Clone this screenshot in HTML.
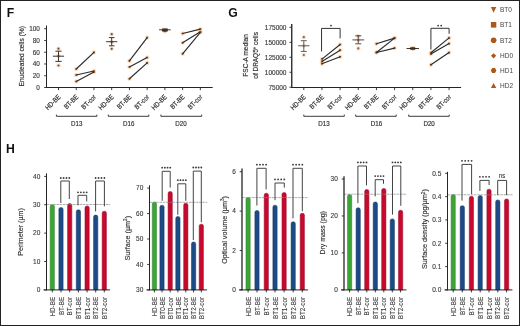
<!DOCTYPE html>
<html><head><meta charset="utf-8"><style>
html,body{margin:0;padding:0;background:#fff;}
body{width:520px;height:326px;overflow:hidden;}
svg{display:block;font-family:"Liberation Sans", sans-serif;}
</style></head><body>
<svg width="520" height="326" viewBox="0 0 520 326">
<rect x="0" y="0" width="520" height="326" fill="#fff"/>
<g opacity="0.999">
<text x="6.70" y="16.50" font-size="12.2" text-anchor="start" fill="#111" font-weight="bold" >F</text>
<text x="228.30" y="16.60" font-size="12.2" text-anchor="start" fill="#111" font-weight="bold" >G</text>
<text x="6.10" y="152.60" font-size="12.2" text-anchor="start" fill="#111" font-weight="bold" >H</text>
<line x1="46.50" y1="25.50" x2="46.50" y2="88.00" stroke="#262626" stroke-width="1" />
<line x1="46.00" y1="87.50" x2="212.70" y2="87.50" stroke="#262626" stroke-width="1" />
<line x1="44.20" y1="87.50" x2="46.50" y2="87.50" stroke="#262626" stroke-width="0.9" />
<text x="39.80" y="89.80" font-size="6.4" text-anchor="end" fill="#3a3a3a" font-weight="normal"  stroke="#3a3a3a" stroke-width="0.15">0</text>
<line x1="44.20" y1="75.74" x2="46.50" y2="75.74" stroke="#262626" stroke-width="0.9" />
<text x="39.80" y="78.04" font-size="6.4" text-anchor="end" fill="#3a3a3a" font-weight="normal"  stroke="#3a3a3a" stroke-width="0.15">20</text>
<line x1="44.20" y1="63.98" x2="46.50" y2="63.98" stroke="#262626" stroke-width="0.9" />
<text x="39.80" y="66.28" font-size="6.4" text-anchor="end" fill="#3a3a3a" font-weight="normal"  stroke="#3a3a3a" stroke-width="0.15">40</text>
<line x1="44.20" y1="52.22" x2="46.50" y2="52.22" stroke="#262626" stroke-width="0.9" />
<text x="39.80" y="54.52" font-size="6.4" text-anchor="end" fill="#3a3a3a" font-weight="normal"  stroke="#3a3a3a" stroke-width="0.15">60</text>
<line x1="44.20" y1="40.46" x2="46.50" y2="40.46" stroke="#262626" stroke-width="0.9" />
<text x="39.80" y="42.76" font-size="6.4" text-anchor="end" fill="#3a3a3a" font-weight="normal"  stroke="#3a3a3a" stroke-width="0.15">80</text>
<line x1="44.20" y1="28.70" x2="46.50" y2="28.70" stroke="#262626" stroke-width="0.9" />
<text x="39.80" y="31.00" font-size="6.4" text-anchor="end" fill="#3a3a3a" font-weight="normal"  stroke="#3a3a3a" stroke-width="0.15">100</text>
<line x1="58.50" y1="87.50" x2="58.50" y2="90.10" stroke="#262626" stroke-width="0.9" />
<text transform="translate(61.00,97.40) rotate(-45) scale(0.86,1)" font-size="6.9" text-anchor="end" fill="#333" font-weight="normal"  stroke="#333" stroke-width="0.2">HD-BE</text>
<line x1="76.23" y1="87.50" x2="76.23" y2="90.10" stroke="#262626" stroke-width="0.9" />
<text transform="translate(78.73,97.40) rotate(-45) scale(0.86,1)" font-size="6.9" text-anchor="end" fill="#333" font-weight="normal"  stroke="#333" stroke-width="0.2">BT-BE</text>
<line x1="93.96" y1="87.50" x2="93.96" y2="90.10" stroke="#262626" stroke-width="0.9" />
<text transform="translate(96.46,97.40) rotate(-45) scale(0.86,1)" font-size="6.9" text-anchor="end" fill="#333" font-weight="normal"  stroke="#333" stroke-width="0.2">BT-cor</text>
<line x1="111.69" y1="87.50" x2="111.69" y2="90.10" stroke="#262626" stroke-width="0.9" />
<text transform="translate(114.19,97.40) rotate(-45) scale(0.86,1)" font-size="6.9" text-anchor="end" fill="#333" font-weight="normal"  stroke="#333" stroke-width="0.2">HD-BE</text>
<line x1="129.42" y1="87.50" x2="129.42" y2="90.10" stroke="#262626" stroke-width="0.9" />
<text transform="translate(131.92,97.40) rotate(-45) scale(0.86,1)" font-size="6.9" text-anchor="end" fill="#333" font-weight="normal"  stroke="#333" stroke-width="0.2">BT-BE</text>
<line x1="147.15" y1="87.50" x2="147.15" y2="90.10" stroke="#262626" stroke-width="0.9" />
<text transform="translate(149.65,97.40) rotate(-45) scale(0.86,1)" font-size="6.9" text-anchor="end" fill="#333" font-weight="normal"  stroke="#333" stroke-width="0.2">BT-cor</text>
<line x1="164.88" y1="87.50" x2="164.88" y2="90.10" stroke="#262626" stroke-width="0.9" />
<text transform="translate(167.38,97.40) rotate(-45) scale(0.86,1)" font-size="6.9" text-anchor="end" fill="#333" font-weight="normal"  stroke="#333" stroke-width="0.2">HD-BE</text>
<line x1="182.61" y1="87.50" x2="182.61" y2="90.10" stroke="#262626" stroke-width="0.9" />
<text transform="translate(185.11,97.40) rotate(-45) scale(0.86,1)" font-size="6.9" text-anchor="end" fill="#333" font-weight="normal"  stroke="#333" stroke-width="0.2">BT-BE</text>
<line x1="200.34" y1="87.50" x2="200.34" y2="90.10" stroke="#262626" stroke-width="0.9" />
<text transform="translate(202.84,97.40) rotate(-45) scale(0.86,1)" font-size="6.9" text-anchor="end" fill="#333" font-weight="normal"  stroke="#333" stroke-width="0.2">BT-cor</text>
<path d="M56.40,114.6 V116.3 H96.90 V114.6" fill="none" stroke="#262626" stroke-width="0.9"/>
<text transform="translate(76.80,126.00) scale(0.9,1)" font-size="6.9" text-anchor="middle" fill="#333" font-weight="normal"  stroke="#333" stroke-width="0.18">D13</text>
<path d="M108.30,114.6 V116.3 H148.80 V114.6" fill="none" stroke="#262626" stroke-width="0.9"/>
<text transform="translate(128.70,126.00) scale(0.9,1)" font-size="6.9" text-anchor="middle" fill="#333" font-weight="normal"  stroke="#333" stroke-width="0.18">D16</text>
<path d="M160.90,114.6 V116.3 H201.70 V114.6" fill="none" stroke="#262626" stroke-width="0.9"/>
<text transform="translate(181.00,126.00) scale(0.9,1)" font-size="6.9" text-anchor="middle" fill="#333" font-weight="normal"  stroke="#333" stroke-width="0.18">D20</text>
<text transform="translate(23.60,56.30) rotate(-90)" font-size="7.3" text-anchor="middle" fill="#333" font-weight="normal" textLength="60.5" lengthAdjust="spacingAndGlyphs"  stroke="#333" stroke-width="0.18">Enucleated cells (%)</text>
<circle cx="58.50" cy="48.70" r="2.3" fill="#f0b070" fill-opacity="0.35"/>
<circle cx="58.50" cy="48.70" r="1.1" fill="#6a5040"/>
<circle cx="58.50" cy="65.50" r="2.3" fill="#f0b070" fill-opacity="0.35"/>
<circle cx="58.50" cy="65.50" r="1.1" fill="#6a5040"/>
<circle cx="58.50" cy="56.00" r="2.3" fill="#f0b070" fill-opacity="0.35"/>
<circle cx="58.50" cy="56.00" r="1.1" fill="#6a5040"/>
<line x1="58.50" y1="51.20" x2="58.50" y2="61.40" stroke="#3f352e" stroke-width="1" />
<line x1="52.90" y1="56.20" x2="64.10" y2="56.20" stroke="#3f352e" stroke-width="1" />
<line x1="55.40" y1="51.20" x2="61.60" y2="51.20" stroke="#3f352e" stroke-width="1" />
<line x1="55.40" y1="61.40" x2="61.60" y2="61.40" stroke="#3f352e" stroke-width="1" />
<circle cx="76.23" cy="69.00" r="2.3" fill="#f0b070" fill-opacity="0.35"/>
<circle cx="76.23" cy="69.00" r="1.1" fill="#8a4c1c"/>
<circle cx="93.96" cy="52.40" r="2.3" fill="#f0b070" fill-opacity="0.35"/>
<circle cx="93.96" cy="52.40" r="1.1" fill="#8a4c1c"/>
<circle cx="76.23" cy="75.00" r="2.3" fill="#f0b070" fill-opacity="0.35"/>
<circle cx="76.23" cy="75.00" r="1.1" fill="#8a4c1c"/>
<circle cx="93.96" cy="71.00" r="2.3" fill="#f0b070" fill-opacity="0.35"/>
<circle cx="93.96" cy="71.00" r="1.1" fill="#8a4c1c"/>
<circle cx="76.23" cy="81.50" r="2.3" fill="#f0b070" fill-opacity="0.35"/>
<circle cx="76.23" cy="81.50" r="1.1" fill="#8a4c1c"/>
<circle cx="93.96" cy="72.00" r="2.3" fill="#f0b070" fill-opacity="0.35"/>
<circle cx="93.96" cy="72.00" r="1.1" fill="#8a4c1c"/>
<line x1="76.23" y1="69.00" x2="93.96" y2="52.40" stroke="#2a2a2a" stroke-width="1.15" />
<line x1="76.23" y1="75.00" x2="93.96" y2="71.00" stroke="#2a2a2a" stroke-width="1.15" />
<line x1="76.23" y1="81.50" x2="93.96" y2="72.00" stroke="#2a2a2a" stroke-width="1.15" />
<circle cx="111.69" cy="34.20" r="2.3" fill="#f0b070" fill-opacity="0.35"/>
<circle cx="111.69" cy="34.20" r="1.1" fill="#6a5040"/>
<circle cx="111.69" cy="48.80" r="2.3" fill="#f0b070" fill-opacity="0.35"/>
<circle cx="111.69" cy="48.80" r="1.1" fill="#6a5040"/>
<circle cx="111.69" cy="42.00" r="2.3" fill="#f0b070" fill-opacity="0.35"/>
<circle cx="111.69" cy="42.00" r="1.1" fill="#6a5040"/>
<line x1="111.69" y1="37.60" x2="111.69" y2="45.80" stroke="#3f352e" stroke-width="1" />
<line x1="106.09" y1="41.70" x2="117.29" y2="41.70" stroke="#3f352e" stroke-width="1" />
<line x1="108.89" y1="37.60" x2="114.49" y2="37.60" stroke="#3f352e" stroke-width="1" />
<line x1="108.89" y1="45.80" x2="114.49" y2="45.80" stroke="#3f352e" stroke-width="1" />
<circle cx="129.42" cy="60.90" r="2.3" fill="#f0b070" fill-opacity="0.35"/>
<circle cx="129.42" cy="60.90" r="1.1" fill="#8a4c1c"/>
<circle cx="147.15" cy="37.60" r="2.3" fill="#f0b070" fill-opacity="0.35"/>
<circle cx="147.15" cy="37.60" r="1.1" fill="#8a4c1c"/>
<circle cx="129.42" cy="67.00" r="2.3" fill="#f0b070" fill-opacity="0.35"/>
<circle cx="129.42" cy="67.00" r="1.1" fill="#8a4c1c"/>
<circle cx="147.15" cy="57.50" r="2.3" fill="#f0b070" fill-opacity="0.35"/>
<circle cx="147.15" cy="57.50" r="1.1" fill="#8a4c1c"/>
<circle cx="129.42" cy="78.80" r="2.3" fill="#f0b070" fill-opacity="0.35"/>
<circle cx="129.42" cy="78.80" r="1.1" fill="#8a4c1c"/>
<circle cx="147.15" cy="62.90" r="2.3" fill="#f0b070" fill-opacity="0.35"/>
<circle cx="147.15" cy="62.90" r="1.1" fill="#8a4c1c"/>
<line x1="129.42" y1="60.90" x2="147.15" y2="37.60" stroke="#2a2a2a" stroke-width="1.15" />
<line x1="129.42" y1="67.00" x2="147.15" y2="57.50" stroke="#2a2a2a" stroke-width="1.15" />
<line x1="129.42" y1="78.80" x2="147.15" y2="62.90" stroke="#2a2a2a" stroke-width="1.15" />
<circle cx="164.88" cy="29.60" r="2.3" fill="#f0b070" fill-opacity="0.35"/>
<circle cx="164.88" cy="29.60" r="1.1" fill="#6a5040"/>
<circle cx="164.88" cy="30.40" r="2.3" fill="#f0b070" fill-opacity="0.35"/>
<circle cx="164.88" cy="30.40" r="1.1" fill="#6a5040"/>
<circle cx="164.88" cy="31.20" r="2.3" fill="#f0b070" fill-opacity="0.35"/>
<circle cx="164.88" cy="31.20" r="1.1" fill="#6a5040"/>
<line x1="164.88" y1="29.00" x2="164.88" y2="30.80" stroke="#3f352e" stroke-width="1" />
<line x1="159.08" y1="29.80" x2="170.68" y2="29.80" stroke="#3f352e" stroke-width="1" />
<line x1="161.88" y1="29.00" x2="167.88" y2="29.00" stroke="#3f352e" stroke-width="1" />
<line x1="161.88" y1="30.80" x2="167.88" y2="30.80" stroke="#3f352e" stroke-width="1" />
<circle cx="163.28" cy="30.20" r="1.2" fill="#3a3028"/>
<circle cx="166.48" cy="30.20" r="1.2" fill="#3a3028"/>
<circle cx="182.61" cy="33.50" r="2.3" fill="#f0b070" fill-opacity="0.35"/>
<circle cx="182.61" cy="33.50" r="1.1" fill="#8a4c1c"/>
<circle cx="200.34" cy="29.10" r="2.3" fill="#f0b070" fill-opacity="0.35"/>
<circle cx="200.34" cy="29.10" r="1.1" fill="#8a4c1c"/>
<circle cx="182.61" cy="42.80" r="2.3" fill="#f0b070" fill-opacity="0.35"/>
<circle cx="182.61" cy="42.80" r="1.1" fill="#8a4c1c"/>
<circle cx="200.34" cy="31.80" r="2.3" fill="#f0b070" fill-opacity="0.35"/>
<circle cx="200.34" cy="31.80" r="1.1" fill="#8a4c1c"/>
<circle cx="182.61" cy="53.80" r="2.3" fill="#f0b070" fill-opacity="0.35"/>
<circle cx="182.61" cy="53.80" r="1.1" fill="#8a4c1c"/>
<circle cx="200.34" cy="32.30" r="2.3" fill="#f0b070" fill-opacity="0.35"/>
<circle cx="200.34" cy="32.30" r="1.1" fill="#8a4c1c"/>
<line x1="182.61" y1="33.50" x2="200.34" y2="29.10" stroke="#2a2a2a" stroke-width="1.15" />
<line x1="182.61" y1="42.80" x2="200.34" y2="31.80" stroke="#2a2a2a" stroke-width="1.15" />
<line x1="182.61" y1="53.80" x2="200.34" y2="32.30" stroke="#2a2a2a" stroke-width="1.15" />
<line x1="291.75" y1="24.10" x2="291.75" y2="88.00" stroke="#262626" stroke-width="1.35" />
<line x1="291.25" y1="87.50" x2="461.10" y2="87.50" stroke="#262626" stroke-width="1" />
<line x1="289.45" y1="87.23" x2="291.75" y2="87.23" stroke="#262626" stroke-width="0.9" />
<text x="286.50" y="90.13" font-size="6.5" text-anchor="end" fill="#3a3a3a" font-weight="normal"  stroke="#3a3a3a" stroke-width="0.15">75000</text>
<line x1="289.45" y1="72.26" x2="291.75" y2="72.26" stroke="#262626" stroke-width="0.9" />
<text x="286.50" y="75.16" font-size="6.5" text-anchor="end" fill="#3a3a3a" font-weight="normal"  stroke="#3a3a3a" stroke-width="0.15">100000</text>
<line x1="289.45" y1="57.29" x2="291.75" y2="57.29" stroke="#262626" stroke-width="0.9" />
<text x="286.50" y="60.19" font-size="6.5" text-anchor="end" fill="#3a3a3a" font-weight="normal"  stroke="#3a3a3a" stroke-width="0.15">125000</text>
<line x1="289.45" y1="42.32" x2="291.75" y2="42.32" stroke="#262626" stroke-width="0.9" />
<text x="286.50" y="45.22" font-size="6.5" text-anchor="end" fill="#3a3a3a" font-weight="normal"  stroke="#3a3a3a" stroke-width="0.15">150000</text>
<line x1="289.45" y1="27.35" x2="291.75" y2="27.35" stroke="#262626" stroke-width="0.9" />
<text x="286.50" y="30.25" font-size="6.5" text-anchor="end" fill="#3a3a3a" font-weight="normal"  stroke="#3a3a3a" stroke-width="0.15">175000</text>
<line x1="303.80" y1="87.50" x2="303.80" y2="90.10" stroke="#262626" stroke-width="0.9" />
<text transform="translate(306.30,97.40) rotate(-45) scale(0.86,1)" font-size="6.9" text-anchor="end" fill="#333" font-weight="normal"  stroke="#333" stroke-width="0.2">HD-BE</text>
<line x1="321.96" y1="87.50" x2="321.96" y2="90.10" stroke="#262626" stroke-width="0.9" />
<text transform="translate(324.46,97.40) rotate(-45) scale(0.86,1)" font-size="6.9" text-anchor="end" fill="#333" font-weight="normal"  stroke="#333" stroke-width="0.2">BT-BE</text>
<line x1="340.12" y1="87.50" x2="340.12" y2="90.10" stroke="#262626" stroke-width="0.9" />
<text transform="translate(342.62,97.40) rotate(-45) scale(0.86,1)" font-size="6.9" text-anchor="end" fill="#333" font-weight="normal"  stroke="#333" stroke-width="0.2">BT-cor</text>
<line x1="358.28" y1="87.50" x2="358.28" y2="90.10" stroke="#262626" stroke-width="0.9" />
<text transform="translate(360.78,97.40) rotate(-45) scale(0.86,1)" font-size="6.9" text-anchor="end" fill="#333" font-weight="normal"  stroke="#333" stroke-width="0.2">HD-BE</text>
<line x1="376.44" y1="87.50" x2="376.44" y2="90.10" stroke="#262626" stroke-width="0.9" />
<text transform="translate(378.94,97.40) rotate(-45) scale(0.86,1)" font-size="6.9" text-anchor="end" fill="#333" font-weight="normal"  stroke="#333" stroke-width="0.2">BT-BE</text>
<line x1="394.60" y1="87.50" x2="394.60" y2="90.10" stroke="#262626" stroke-width="0.9" />
<text transform="translate(397.10,97.40) rotate(-45) scale(0.86,1)" font-size="6.9" text-anchor="end" fill="#333" font-weight="normal"  stroke="#333" stroke-width="0.2">BT-cor</text>
<line x1="412.76" y1="87.50" x2="412.76" y2="90.10" stroke="#262626" stroke-width="0.9" />
<text transform="translate(415.26,97.40) rotate(-45) scale(0.86,1)" font-size="6.9" text-anchor="end" fill="#333" font-weight="normal"  stroke="#333" stroke-width="0.2">HD-BE</text>
<line x1="430.92" y1="87.50" x2="430.92" y2="90.10" stroke="#262626" stroke-width="0.9" />
<text transform="translate(433.42,97.40) rotate(-45) scale(0.86,1)" font-size="6.9" text-anchor="end" fill="#333" font-weight="normal"  stroke="#333" stroke-width="0.2">BT-BE</text>
<line x1="449.08" y1="87.50" x2="449.08" y2="90.10" stroke="#262626" stroke-width="0.9" />
<text transform="translate(451.58,97.40) rotate(-45) scale(0.86,1)" font-size="6.9" text-anchor="end" fill="#333" font-weight="normal"  stroke="#333" stroke-width="0.2">BT-cor</text>
<path d="M303.80,114.6 V116.3 H344.30 V114.6" fill="none" stroke="#262626" stroke-width="0.9"/>
<text transform="translate(323.90,126.00) scale(0.9,1)" font-size="6.9" text-anchor="middle" fill="#333" font-weight="normal"  stroke="#333" stroke-width="0.18">D13</text>
<path d="M355.70,114.6 V116.3 H396.20 V114.6" fill="none" stroke="#262626" stroke-width="0.9"/>
<text transform="translate(376.50,126.00) scale(0.9,1)" font-size="6.9" text-anchor="middle" fill="#333" font-weight="normal"  stroke="#333" stroke-width="0.18">D16</text>
<path d="M408.70,114.6 V116.3 H449.20 V114.6" fill="none" stroke="#262626" stroke-width="0.9"/>
<text transform="translate(429.10,126.00) scale(0.9,1)" font-size="6.9" text-anchor="middle" fill="#333" font-weight="normal"  stroke="#333" stroke-width="0.18">D20</text>
<text transform="translate(247.50,55.40) rotate(-90)" font-size="7.1" text-anchor="middle" fill="#333" font-weight="normal" textLength="42.6" lengthAdjust="spacingAndGlyphs"  stroke="#333" stroke-width="0.18">FSC-A median</text>
<text transform="translate(258.30,55.40) rotate(-90)" font-size="7.1" text-anchor="middle" fill="#333" font-weight="normal" textLength="46.6" lengthAdjust="spacingAndGlyphs"  stroke="#333" stroke-width="0.18">of DRAQ5<tspan font-size="4.6" dy="-2.6">+</tspan><tspan dy="2.6"> cells</tspan></text>
<circle cx="303.80" cy="37.20" r="2.3" fill="#f0b070" fill-opacity="0.35"/>
<circle cx="303.80" cy="37.20" r="1.1" fill="#7a6656"/>
<circle cx="303.80" cy="55.00" r="2.3" fill="#f0b070" fill-opacity="0.35"/>
<circle cx="303.80" cy="55.00" r="1.1" fill="#7a6656"/>
<circle cx="303.80" cy="45.80" r="2.3" fill="#f0b070" fill-opacity="0.35"/>
<circle cx="303.80" cy="45.80" r="1.1" fill="#7a6656"/>
<line x1="303.80" y1="40.70" x2="303.80" y2="51.40" stroke="#6a5c54" stroke-width="1" />
<line x1="298.10" y1="45.80" x2="309.50" y2="45.80" stroke="#6a5c54" stroke-width="1" />
<line x1="300.80" y1="40.70" x2="306.80" y2="40.70" stroke="#6a5c54" stroke-width="1" />
<line x1="300.80" y1="51.40" x2="306.80" y2="51.40" stroke="#6a5c54" stroke-width="1" />
<circle cx="321.96" cy="59.10" r="2.3" fill="#f0b070" fill-opacity="0.35"/>
<circle cx="321.96" cy="59.10" r="1.1" fill="#8a4c1c"/>
<circle cx="340.12" cy="44.50" r="2.3" fill="#f0b070" fill-opacity="0.35"/>
<circle cx="340.12" cy="44.50" r="1.1" fill="#8a4c1c"/>
<circle cx="321.96" cy="61.40" r="2.3" fill="#f0b070" fill-opacity="0.35"/>
<circle cx="321.96" cy="61.40" r="1.1" fill="#8a4c1c"/>
<circle cx="340.12" cy="50.20" r="2.3" fill="#f0b070" fill-opacity="0.35"/>
<circle cx="340.12" cy="50.20" r="1.1" fill="#8a4c1c"/>
<circle cx="321.96" cy="63.70" r="2.3" fill="#f0b070" fill-opacity="0.35"/>
<circle cx="321.96" cy="63.70" r="1.1" fill="#8a4c1c"/>
<circle cx="340.12" cy="56.80" r="2.3" fill="#f0b070" fill-opacity="0.35"/>
<circle cx="340.12" cy="56.80" r="1.1" fill="#8a4c1c"/>
<line x1="321.96" y1="59.10" x2="340.12" y2="44.50" stroke="#2a2a2a" stroke-width="1.15" />
<line x1="321.96" y1="61.40" x2="340.12" y2="50.20" stroke="#2a2a2a" stroke-width="1.15" />
<line x1="321.96" y1="63.70" x2="340.12" y2="56.80" stroke="#2a2a2a" stroke-width="1.15" />
<circle cx="358.28" cy="36.00" r="2.3" fill="#f0b070" fill-opacity="0.35"/>
<circle cx="358.28" cy="36.00" r="1.1" fill="#7a6656"/>
<circle cx="358.28" cy="48.40" r="2.3" fill="#f0b070" fill-opacity="0.35"/>
<circle cx="358.28" cy="48.40" r="1.1" fill="#7a6656"/>
<circle cx="358.28" cy="40.00" r="2.3" fill="#f0b070" fill-opacity="0.35"/>
<circle cx="358.28" cy="40.00" r="1.1" fill="#7a6656"/>
<line x1="358.28" y1="35.80" x2="358.28" y2="43.80" stroke="#5a4c44" stroke-width="1" />
<line x1="352.38" y1="39.90" x2="364.18" y2="39.90" stroke="#5a4c44" stroke-width="1" />
<line x1="355.28" y1="35.80" x2="361.28" y2="35.80" stroke="#5a4c44" stroke-width="1" />
<line x1="355.28" y1="43.80" x2="361.28" y2="43.80" stroke="#5a4c44" stroke-width="1" />
<circle cx="376.44" cy="43.80" r="2.3" fill="#f0b070" fill-opacity="0.35"/>
<circle cx="376.44" cy="43.80" r="1.1" fill="#8a4c1c"/>
<circle cx="394.60" cy="38.10" r="2.3" fill="#f0b070" fill-opacity="0.35"/>
<circle cx="394.60" cy="38.10" r="1.1" fill="#8a4c1c"/>
<circle cx="376.44" cy="52.50" r="2.3" fill="#f0b070" fill-opacity="0.35"/>
<circle cx="376.44" cy="52.50" r="1.1" fill="#8a4c1c"/>
<circle cx="394.60" cy="38.10" r="2.3" fill="#f0b070" fill-opacity="0.35"/>
<circle cx="394.60" cy="38.10" r="1.1" fill="#8a4c1c"/>
<circle cx="376.44" cy="52.50" r="2.3" fill="#f0b070" fill-opacity="0.35"/>
<circle cx="376.44" cy="52.50" r="1.1" fill="#8a4c1c"/>
<circle cx="394.60" cy="48.10" r="2.3" fill="#f0b070" fill-opacity="0.35"/>
<circle cx="394.60" cy="48.10" r="1.1" fill="#8a4c1c"/>
<line x1="376.44" y1="43.80" x2="394.60" y2="38.10" stroke="#2a2a2a" stroke-width="1.15" />
<line x1="376.44" y1="52.50" x2="394.60" y2="38.10" stroke="#2a2a2a" stroke-width="1.15" />
<line x1="376.44" y1="52.50" x2="394.60" y2="48.10" stroke="#2a2a2a" stroke-width="1.15" />
<circle cx="412.76" cy="48.20" r="2.3" fill="#f0b070" fill-opacity="0.35"/>
<circle cx="412.76" cy="48.20" r="1.1" fill="#6a5040"/>
<circle cx="412.76" cy="48.80" r="2.3" fill="#f0b070" fill-opacity="0.35"/>
<circle cx="412.76" cy="48.80" r="1.1" fill="#6a5040"/>
<circle cx="412.76" cy="48.50" r="2.3" fill="#f0b070" fill-opacity="0.35"/>
<circle cx="412.76" cy="48.50" r="1.1" fill="#6a5040"/>
<line x1="412.76" y1="47.90" x2="412.76" y2="49.10" stroke="#3f352e" stroke-width="1" />
<line x1="406.56" y1="48.50" x2="418.96" y2="48.50" stroke="#3f352e" stroke-width="1" />
<line x1="410.56" y1="47.90" x2="414.96" y2="47.90" stroke="#3f352e" stroke-width="1" />
<line x1="410.56" y1="49.10" x2="414.96" y2="49.10" stroke="#3f352e" stroke-width="1" />
<circle cx="410.76" cy="48.50" r="1.0" fill="#2a2420"/>
<circle cx="414.76" cy="48.50" r="1.0" fill="#2a2420"/>
<circle cx="430.92" cy="52.80" r="2.3" fill="#f0b070" fill-opacity="0.35"/>
<circle cx="430.92" cy="52.80" r="1.1" fill="#8a4c1c"/>
<circle cx="449.08" cy="37.90" r="2.3" fill="#f0b070" fill-opacity="0.35"/>
<circle cx="449.08" cy="37.90" r="1.1" fill="#8a4c1c"/>
<circle cx="430.92" cy="54.00" r="2.3" fill="#f0b070" fill-opacity="0.35"/>
<circle cx="430.92" cy="54.00" r="1.1" fill="#8a4c1c"/>
<circle cx="449.08" cy="43.60" r="2.3" fill="#f0b070" fill-opacity="0.35"/>
<circle cx="449.08" cy="43.60" r="1.1" fill="#8a4c1c"/>
<circle cx="430.92" cy="64.80" r="2.3" fill="#f0b070" fill-opacity="0.35"/>
<circle cx="430.92" cy="64.80" r="1.1" fill="#8a4c1c"/>
<circle cx="449.08" cy="52.60" r="2.3" fill="#f0b070" fill-opacity="0.35"/>
<circle cx="449.08" cy="52.60" r="1.1" fill="#8a4c1c"/>
<line x1="430.92" y1="52.80" x2="449.08" y2="37.90" stroke="#2a2a2a" stroke-width="1.15" />
<line x1="430.92" y1="54.00" x2="449.08" y2="43.60" stroke="#2a2a2a" stroke-width="1.15" />
<line x1="430.92" y1="64.80" x2="449.08" y2="52.60" stroke="#2a2a2a" stroke-width="1.15" />
<path d="M321.56,51.4 V28.4 H340.12 V38.4" fill="none" stroke="#333" stroke-width="1"/>
<circle cx="331.00" cy="25.60" r="0.92" fill="#3a3a3a"/>
<path d="M430.92,49.5 V28.3 H449.08 V33.8" fill="none" stroke="#333" stroke-width="1"/>
<circle cx="438.10" cy="25.60" r="0.92" fill="#3a3a3a"/>
<circle cx="441.20" cy="25.60" r="0.92" fill="#3a3a3a"/>
<path d="M490.90000000000003,7.000000000000001 L496.3,7.000000000000001 L493.6,12.700000000000001 Z" fill="#ad5818"/>
<rect x="490.90000000000003" y="22.0" width="5.4" height="5.6" fill="#ad5818"/>
<circle cx="493.6" cy="40.3" r="2.8" fill="#ad5818"/>
<path d="M493.6,53.199999999999996 L496.20000000000005,55.8 L493.6,58.4 L491.0,55.8 Z" fill="#ad5818"/>
<path d="M490.8,70.6 L492.20000000000005,68.1 L495.0,68.1 L496.40000000000003,70.6 L495.0,73.1 L492.20000000000005,73.1 Z" fill="#ad5818"/>
<path d="M490.90000000000003,87.89999999999999 L496.3,87.89999999999999 L493.6,82.89999999999999 Z" fill="#ad5818"/>
<text x="500.00" y="12.10" font-size="6.5" text-anchor="start" fill="#444" font-weight="normal" >BT0</text>
<text x="500.00" y="27.10" font-size="6.5" text-anchor="start" fill="#444" font-weight="normal" >BT1</text>
<text x="500.00" y="42.60" font-size="6.5" text-anchor="start" fill="#444" font-weight="normal" >BT2</text>
<text x="500.00" y="58.10" font-size="6.5" text-anchor="start" fill="#444" font-weight="normal" >HD0</text>
<text x="500.00" y="72.90" font-size="6.5" text-anchor="start" fill="#444" font-weight="normal" >HD1</text>
<text x="500.00" y="87.90" font-size="6.5" text-anchor="start" fill="#444" font-weight="normal" >HD2</text>
<path d="M50.17,289.9 V206.60 Q50.17,204.70 52.07,204.70 H52.52 Q54.42,204.70 54.42,206.60 V289.9 Z" fill="#3ca537" stroke="#2f7e2b" stroke-width="0.5"/>
<path d="M58.88,289.9 V209.40 Q58.88,207.50 60.77,207.50 H61.23 Q63.12,207.50 63.12,209.40 V289.9 Z" fill="#1d4b87" stroke="#12335f" stroke-width="0.5"/>
<path d="M67.58,289.9 V205.40 Q67.58,203.50 69.48,203.50 H69.92 Q71.83,203.50 71.83,205.40 V289.9 Z" fill="#c8082c" stroke="#930c2a" stroke-width="0.5"/>
<path d="M76.28,289.9 V211.70 Q76.28,209.80 78.18,209.80 H78.62 Q80.53,209.80 80.53,211.70 V289.9 Z" fill="#1d4b87" stroke="#12335f" stroke-width="0.5"/>
<path d="M84.97,289.9 V207.80 Q84.97,205.90 86.88,205.90 H87.32 Q89.22,205.90 89.22,207.80 V289.9 Z" fill="#c8082c" stroke="#930c2a" stroke-width="0.5"/>
<path d="M93.58,289.9 V217.00 Q93.58,215.10 95.48,215.10 H95.92 Q97.83,215.10 97.83,217.00 V289.9 Z" fill="#1d4b87" stroke="#12335f" stroke-width="0.5"/>
<path d="M102.17,289.9 V213.10 Q102.17,211.20 104.08,211.20 H104.52 Q106.42,211.20 106.42,213.10 V289.9 Z" fill="#c8082c" stroke="#930c2a" stroke-width="0.5"/>
<line x1="46.5" y1="204.50" x2="110.30" y2="204.50" stroke="#8a8a8a" stroke-width="0.7" stroke-dasharray="2.6,0.7"/>
<line x1="46.50" y1="173.30" x2="46.50" y2="290.40" stroke="#262626" stroke-width="1" />
<line x1="43.50" y1="289.90" x2="110.10" y2="289.90" stroke="#262626" stroke-width="1" />
<line x1="44.20" y1="289.90" x2="46.50" y2="289.90" stroke="#262626" stroke-width="0.9" />
<text x="40.30" y="292.20" font-size="6.5" text-anchor="end" fill="#3a3a3a" font-weight="normal"  stroke="#3a3a3a" stroke-width="0.12">0</text>
<line x1="44.20" y1="261.52" x2="46.50" y2="261.52" stroke="#262626" stroke-width="0.9" />
<text x="40.30" y="263.82" font-size="6.5" text-anchor="end" fill="#3a3a3a" font-weight="normal"  stroke="#3a3a3a" stroke-width="0.12">10</text>
<line x1="44.20" y1="233.15" x2="46.50" y2="233.15" stroke="#262626" stroke-width="0.9" />
<text x="40.30" y="235.45" font-size="6.5" text-anchor="end" fill="#3a3a3a" font-weight="normal"  stroke="#3a3a3a" stroke-width="0.12">20</text>
<line x1="44.20" y1="204.77" x2="46.50" y2="204.77" stroke="#262626" stroke-width="0.9" />
<text x="40.30" y="207.07" font-size="6.5" text-anchor="end" fill="#3a3a3a" font-weight="normal"  stroke="#3a3a3a" stroke-width="0.12">30</text>
<line x1="44.20" y1="176.40" x2="46.50" y2="176.40" stroke="#262626" stroke-width="0.9" />
<text x="40.30" y="178.70" font-size="6.5" text-anchor="end" fill="#3a3a3a" font-weight="normal"  stroke="#3a3a3a" stroke-width="0.12">40</text>
<line x1="52.30" y1="289.90" x2="52.30" y2="292.40" stroke="#262626" stroke-width="0.9" />
<text transform="translate(54.95,296.90) rotate(-90) scale(0.9,1)" font-size="7.0" text-anchor="end" fill="#383838" font-weight="normal"  stroke="#383838" stroke-width="0.1">HD-BE</text>
<line x1="61.00" y1="289.90" x2="61.00" y2="292.40" stroke="#262626" stroke-width="0.9" />
<text transform="translate(63.65,296.90) rotate(-90) scale(0.9,1)" font-size="7.0" text-anchor="end" fill="#383838" font-weight="normal"  stroke="#383838" stroke-width="0.1">BT-BE</text>
<line x1="69.70" y1="289.90" x2="69.70" y2="292.40" stroke="#262626" stroke-width="0.9" />
<text transform="translate(72.35,296.90) rotate(-90) scale(0.9,1)" font-size="7.0" text-anchor="end" fill="#383838" font-weight="normal"  stroke="#383838" stroke-width="0.1">BT-cor</text>
<line x1="78.40" y1="289.90" x2="78.40" y2="292.40" stroke="#262626" stroke-width="0.9" />
<text transform="translate(81.05,296.90) rotate(-90) scale(0.9,1)" font-size="7.0" text-anchor="end" fill="#383838" font-weight="normal"  stroke="#383838" stroke-width="0.1">BT1-BE</text>
<line x1="87.10" y1="289.90" x2="87.10" y2="292.40" stroke="#262626" stroke-width="0.9" />
<text transform="translate(89.75,296.90) rotate(-90) scale(0.9,1)" font-size="7.0" text-anchor="end" fill="#383838" font-weight="normal"  stroke="#383838" stroke-width="0.1">BT1-cor</text>
<line x1="95.70" y1="289.90" x2="95.70" y2="292.40" stroke="#262626" stroke-width="0.9" />
<text transform="translate(98.35,296.90) rotate(-90) scale(0.9,1)" font-size="7.0" text-anchor="end" fill="#383838" font-weight="normal"  stroke="#383838" stroke-width="0.1">BT2-BE</text>
<line x1="104.30" y1="289.90" x2="104.30" y2="292.40" stroke="#262626" stroke-width="0.9" />
<text transform="translate(106.95,296.90) rotate(-90) scale(0.9,1)" font-size="7.0" text-anchor="end" fill="#383838" font-weight="normal"  stroke="#383838" stroke-width="0.1">BT2-cor</text>
<path d="M60.80,203.00 V181.00 H69.30 V199.10" fill="none" stroke="#444" stroke-width="1"/>
<circle cx="60.80" cy="178.00" r="0.92" fill="#3a3a3a"/>
<circle cx="63.63" cy="178.00" r="0.92" fill="#3a3a3a"/>
<circle cx="66.47" cy="178.00" r="0.92" fill="#3a3a3a"/>
<circle cx="69.30" cy="178.00" r="0.92" fill="#3a3a3a"/>
<path d="M78.00,205.30 V195.30 H86.70 V201.40" fill="none" stroke="#444" stroke-width="1"/>
<circle cx="78.00" cy="192.30" r="0.92" fill="#3a3a3a"/>
<circle cx="80.90" cy="192.30" r="0.92" fill="#3a3a3a"/>
<circle cx="83.80" cy="192.30" r="0.92" fill="#3a3a3a"/>
<circle cx="86.70" cy="192.30" r="0.92" fill="#3a3a3a"/>
<path d="M95.60,211.40 V181.00 H104.40 V206.30" fill="none" stroke="#444" stroke-width="1"/>
<circle cx="95.60" cy="178.00" r="0.92" fill="#3a3a3a"/>
<circle cx="98.53" cy="178.00" r="0.92" fill="#3a3a3a"/>
<circle cx="101.47" cy="178.00" r="0.92" fill="#3a3a3a"/>
<circle cx="104.40" cy="178.00" r="0.92" fill="#3a3a3a"/>
<text transform="translate(23.00,232.00) rotate(-90)" font-size="7.2" text-anchor="middle" fill="#333" font-weight="normal" textLength="47.6" lengthAdjust="spacingAndGlyphs"  stroke="#333" stroke-width="0.15">Perimeter (µm)</text>
<path d="M152.28,289.9 V204.00 Q152.28,202.10 154.18,202.10 H154.62 Q156.53,202.10 156.53,204.00 V289.9 Z" fill="#3ca537" stroke="#2f7e2b" stroke-width="0.5"/>
<path d="M159.88,289.9 V207.20 Q159.88,205.30 161.78,205.30 H162.22 Q164.12,205.30 164.12,207.20 V289.9 Z" fill="#1d4b87" stroke="#12335f" stroke-width="0.5"/>
<path d="M168.07,289.9 V193.40 Q168.07,191.50 169.97,191.50 H170.42 Q172.32,191.50 172.32,193.40 V289.9 Z" fill="#c8082c" stroke="#930c2a" stroke-width="0.5"/>
<path d="M175.78,289.9 V218.40 Q175.78,216.50 177.68,216.50 H178.12 Q180.03,216.50 180.03,218.40 V289.9 Z" fill="#1d4b87" stroke="#12335f" stroke-width="0.5"/>
<path d="M183.68,289.9 V205.10 Q183.68,203.20 185.58,203.20 H186.03 Q187.93,203.20 187.93,205.10 V289.9 Z" fill="#c8082c" stroke="#930c2a" stroke-width="0.5"/>
<path d="M191.47,289.9 V243.90 Q191.47,242.00 193.38,242.00 H193.82 Q195.72,242.00 195.72,243.90 V289.9 Z" fill="#1d4b87" stroke="#12335f" stroke-width="0.5"/>
<path d="M199.18,289.9 V226.10 Q199.18,224.20 201.08,224.20 H201.53 Q203.43,224.20 203.43,226.10 V289.9 Z" fill="#c8082c" stroke="#930c2a" stroke-width="0.5"/>
<line x1="149.5" y1="202.30" x2="207.30" y2="202.30" stroke="#8a8a8a" stroke-width="0.7" stroke-dasharray="2.6,0.7"/>
<line x1="149.50" y1="185.30" x2="149.50" y2="290.40" stroke="#262626" stroke-width="1" />
<line x1="146.50" y1="289.90" x2="207.10" y2="289.90" stroke="#262626" stroke-width="1" />
<line x1="147.20" y1="289.90" x2="149.50" y2="289.90" stroke="#262626" stroke-width="0.9" />
<text x="143.30" y="292.20" font-size="6.5" text-anchor="end" fill="#3a3a3a" font-weight="normal"  stroke="#3a3a3a" stroke-width="0.12">30</text>
<line x1="147.20" y1="264.45" x2="149.50" y2="264.45" stroke="#262626" stroke-width="0.9" />
<text x="143.30" y="266.75" font-size="6.5" text-anchor="end" fill="#3a3a3a" font-weight="normal"  stroke="#3a3a3a" stroke-width="0.12">40</text>
<line x1="147.20" y1="239.00" x2="149.50" y2="239.00" stroke="#262626" stroke-width="0.9" />
<text x="143.30" y="241.30" font-size="6.5" text-anchor="end" fill="#3a3a3a" font-weight="normal"  stroke="#3a3a3a" stroke-width="0.12">50</text>
<line x1="147.20" y1="213.55" x2="149.50" y2="213.55" stroke="#262626" stroke-width="0.9" />
<text x="143.30" y="215.85" font-size="6.5" text-anchor="end" fill="#3a3a3a" font-weight="normal"  stroke="#3a3a3a" stroke-width="0.12">60</text>
<line x1="147.20" y1="188.10" x2="149.50" y2="188.10" stroke="#262626" stroke-width="0.9" />
<text x="143.30" y="190.40" font-size="6.5" text-anchor="end" fill="#3a3a3a" font-weight="normal"  stroke="#3a3a3a" stroke-width="0.12">70</text>
<line x1="154.40" y1="289.90" x2="154.40" y2="292.40" stroke="#262626" stroke-width="0.9" />
<text transform="translate(157.05,296.90) rotate(-90) scale(0.9,1)" font-size="7.0" text-anchor="end" fill="#383838" font-weight="normal"  stroke="#383838" stroke-width="0.1">HD-BE</text>
<line x1="162.00" y1="289.90" x2="162.00" y2="292.40" stroke="#262626" stroke-width="0.9" />
<text transform="translate(164.65,296.90) rotate(-90) scale(0.9,1)" font-size="7.0" text-anchor="end" fill="#383838" font-weight="normal"  stroke="#383838" stroke-width="0.1">BT0-BE</text>
<line x1="170.20" y1="289.90" x2="170.20" y2="292.40" stroke="#262626" stroke-width="0.9" />
<text transform="translate(172.85,296.90) rotate(-90) scale(0.9,1)" font-size="7.0" text-anchor="end" fill="#383838" font-weight="normal"  stroke="#383838" stroke-width="0.1">BT0-cor</text>
<line x1="177.90" y1="289.90" x2="177.90" y2="292.40" stroke="#262626" stroke-width="0.9" />
<text transform="translate(180.55,296.90) rotate(-90) scale(0.9,1)" font-size="7.0" text-anchor="end" fill="#383838" font-weight="normal"  stroke="#383838" stroke-width="0.1">BT1-BE</text>
<line x1="185.80" y1="289.90" x2="185.80" y2="292.40" stroke="#262626" stroke-width="0.9" />
<text transform="translate(188.45,296.90) rotate(-90) scale(0.9,1)" font-size="7.0" text-anchor="end" fill="#383838" font-weight="normal"  stroke="#383838" stroke-width="0.1">BT1-cor</text>
<line x1="193.60" y1="289.90" x2="193.60" y2="292.40" stroke="#262626" stroke-width="0.9" />
<text transform="translate(196.25,296.90) rotate(-90) scale(0.9,1)" font-size="7.0" text-anchor="end" fill="#383838" font-weight="normal"  stroke="#383838" stroke-width="0.1">BT2-BE</text>
<line x1="201.30" y1="289.90" x2="201.30" y2="292.40" stroke="#262626" stroke-width="0.9" />
<text transform="translate(203.95,296.90) rotate(-90) scale(0.9,1)" font-size="7.0" text-anchor="end" fill="#383838" font-weight="normal"  stroke="#383838" stroke-width="0.1">BT2-cor</text>
<path d="M162.20,200.80 V171.30 H170.20 V187.60" fill="none" stroke="#444" stroke-width="1"/>
<circle cx="162.20" cy="167.70" r="0.92" fill="#3a3a3a"/>
<circle cx="164.87" cy="167.70" r="0.92" fill="#3a3a3a"/>
<circle cx="167.53" cy="167.70" r="0.92" fill="#3a3a3a"/>
<circle cx="170.20" cy="167.70" r="0.92" fill="#3a3a3a"/>
<path d="M177.80,214.80 V183.80 H185.80 V200.80" fill="none" stroke="#444" stroke-width="1"/>
<circle cx="177.80" cy="180.20" r="0.92" fill="#3a3a3a"/>
<circle cx="180.47" cy="180.20" r="0.92" fill="#3a3a3a"/>
<circle cx="183.13" cy="180.20" r="0.92" fill="#3a3a3a"/>
<circle cx="185.80" cy="180.20" r="0.92" fill="#3a3a3a"/>
<path d="M193.30,240.00 V171.10 H201.30 V222.30" fill="none" stroke="#444" stroke-width="1"/>
<circle cx="193.30" cy="167.50" r="0.92" fill="#3a3a3a"/>
<circle cx="195.97" cy="167.50" r="0.92" fill="#3a3a3a"/>
<circle cx="198.63" cy="167.50" r="0.92" fill="#3a3a3a"/>
<circle cx="201.30" cy="167.50" r="0.92" fill="#3a3a3a"/>
<text transform="translate(129.60,238.20) rotate(-90)" font-size="7.2" text-anchor="middle" fill="#333" font-weight="normal" textLength="44.6" lengthAdjust="spacingAndGlyphs"  stroke="#333" stroke-width="0.15">Surface (µm<tspan font-size="4.6" dy="-2.6">2</tspan><tspan dy="2.6">)</tspan></text>
<path d="M245.97,289.9 V199.50 Q245.97,197.60 247.88,197.60 H248.32 Q250.22,197.60 250.22,199.50 V289.9 Z" fill="#3ca537" stroke="#2f7e2b" stroke-width="0.5"/>
<path d="M254.88,289.9 V212.40 Q254.88,210.50 256.77,210.50 H257.23 Q259.12,210.50 259.12,212.40 V289.9 Z" fill="#1d4b87" stroke="#12335f" stroke-width="0.5"/>
<path d="M264.18,289.9 V195.10 Q264.18,193.20 266.07,193.20 H266.53 Q268.43,193.20 268.43,195.10 V289.9 Z" fill="#c8082c" stroke="#930c2a" stroke-width="0.5"/>
<path d="M272.88,289.9 V207.10 Q272.88,205.20 274.77,205.20 H275.23 Q277.12,205.20 277.12,207.10 V289.9 Z" fill="#1d4b87" stroke="#12335f" stroke-width="0.5"/>
<path d="M281.98,289.9 V194.40 Q281.98,192.50 283.88,192.50 H284.33 Q286.23,192.50 286.23,194.40 V289.9 Z" fill="#c8082c" stroke="#930c2a" stroke-width="0.5"/>
<path d="M291.07,289.9 V223.70 Q291.07,221.80 292.97,221.80 H293.43 Q295.32,221.80 295.32,223.70 V289.9 Z" fill="#1d4b87" stroke="#12335f" stroke-width="0.5"/>
<path d="M300.18,289.9 V215.20 Q300.18,213.30 302.07,213.30 H302.53 Q304.43,213.30 304.43,215.20 V289.9 Z" fill="#c8082c" stroke="#930c2a" stroke-width="0.5"/>
<line x1="242.0" y1="197.60" x2="308.30" y2="197.60" stroke="#8a8a8a" stroke-width="0.7" stroke-dasharray="2.6,0.7"/>
<line x1="242.00" y1="168.60" x2="242.00" y2="290.40" stroke="#262626" stroke-width="1.3" />
<line x1="239.00" y1="289.90" x2="308.10" y2="289.90" stroke="#262626" stroke-width="1" />
<line x1="239.70" y1="289.90" x2="242.00" y2="289.90" stroke="#262626" stroke-width="0.9" />
<text x="235.80" y="292.20" font-size="6.5" text-anchor="end" fill="#3a3a3a" font-weight="normal"  stroke="#3a3a3a" stroke-width="0.12">0</text>
<line x1="239.70" y1="250.50" x2="242.00" y2="250.50" stroke="#262626" stroke-width="0.9" />
<text x="235.80" y="252.80" font-size="6.5" text-anchor="end" fill="#3a3a3a" font-weight="normal"  stroke="#3a3a3a" stroke-width="0.12">2</text>
<line x1="239.70" y1="211.10" x2="242.00" y2="211.10" stroke="#262626" stroke-width="0.9" />
<text x="235.80" y="213.40" font-size="6.5" text-anchor="end" fill="#3a3a3a" font-weight="normal"  stroke="#3a3a3a" stroke-width="0.12">4</text>
<line x1="239.70" y1="171.70" x2="242.00" y2="171.70" stroke="#262626" stroke-width="0.9" />
<text x="235.80" y="174.00" font-size="6.5" text-anchor="end" fill="#3a3a3a" font-weight="normal"  stroke="#3a3a3a" stroke-width="0.12">6</text>
<line x1="248.10" y1="289.90" x2="248.10" y2="292.40" stroke="#262626" stroke-width="0.9" />
<text transform="translate(250.75,296.90) rotate(-90) scale(0.9,1)" font-size="7.0" text-anchor="end" fill="#383838" font-weight="normal"  stroke="#383838" stroke-width="0.1">HD-BE</text>
<line x1="257.00" y1="289.90" x2="257.00" y2="292.40" stroke="#262626" stroke-width="0.9" />
<text transform="translate(259.65,296.90) rotate(-90) scale(0.9,1)" font-size="7.0" text-anchor="end" fill="#383838" font-weight="normal"  stroke="#383838" stroke-width="0.1">BT-BE</text>
<line x1="266.30" y1="289.90" x2="266.30" y2="292.40" stroke="#262626" stroke-width="0.9" />
<text transform="translate(268.95,296.90) rotate(-90) scale(0.9,1)" font-size="7.0" text-anchor="end" fill="#383838" font-weight="normal"  stroke="#383838" stroke-width="0.1">BT-cor</text>
<line x1="275.00" y1="289.90" x2="275.00" y2="292.40" stroke="#262626" stroke-width="0.9" />
<text transform="translate(277.65,296.90) rotate(-90) scale(0.9,1)" font-size="7.0" text-anchor="end" fill="#383838" font-weight="normal"  stroke="#383838" stroke-width="0.1">BT1-BE</text>
<line x1="284.10" y1="289.90" x2="284.10" y2="292.40" stroke="#262626" stroke-width="0.9" />
<text transform="translate(286.75,296.90) rotate(-90) scale(0.9,1)" font-size="7.0" text-anchor="end" fill="#383838" font-weight="normal"  stroke="#383838" stroke-width="0.1">BT1-cor</text>
<line x1="293.20" y1="289.90" x2="293.20" y2="292.40" stroke="#262626" stroke-width="0.9" />
<text transform="translate(295.85,296.90) rotate(-90) scale(0.9,1)" font-size="7.0" text-anchor="end" fill="#383838" font-weight="normal"  stroke="#383838" stroke-width="0.1">BT2-BE</text>
<line x1="302.30" y1="289.90" x2="302.30" y2="292.40" stroke="#262626" stroke-width="0.9" />
<text transform="translate(304.95,296.90) rotate(-90) scale(0.9,1)" font-size="7.0" text-anchor="end" fill="#383838" font-weight="normal"  stroke="#383838" stroke-width="0.1">BT2-cor</text>
<path d="M256.90,205.50 V168.30 H266.10 V189.40" fill="none" stroke="#444" stroke-width="1"/>
<circle cx="256.90" cy="164.70" r="0.92" fill="#3a3a3a"/>
<circle cx="259.97" cy="164.70" r="0.92" fill="#3a3a3a"/>
<circle cx="263.03" cy="164.70" r="0.92" fill="#3a3a3a"/>
<circle cx="266.10" cy="164.70" r="0.92" fill="#3a3a3a"/>
<path d="M275.00,200.20 V183.00 H284.30 V187.60" fill="none" stroke="#444" stroke-width="1"/>
<circle cx="275.00" cy="179.40" r="0.92" fill="#3a3a3a"/>
<circle cx="278.10" cy="179.40" r="0.92" fill="#3a3a3a"/>
<circle cx="281.20" cy="179.40" r="0.92" fill="#3a3a3a"/>
<circle cx="284.30" cy="179.40" r="0.92" fill="#3a3a3a"/>
<path d="M293.00,218.40 V168.30 H302.30 V211.30" fill="none" stroke="#444" stroke-width="1"/>
<circle cx="293.00" cy="164.70" r="0.92" fill="#3a3a3a"/>
<circle cx="296.10" cy="164.70" r="0.92" fill="#3a3a3a"/>
<circle cx="299.20" cy="164.70" r="0.92" fill="#3a3a3a"/>
<circle cx="302.30" cy="164.70" r="0.92" fill="#3a3a3a"/>
<text transform="translate(227.00,229.90) rotate(-90)" font-size="7.2" text-anchor="middle" fill="#333" font-weight="normal" textLength="67.8" lengthAdjust="spacingAndGlyphs"  stroke="#333" stroke-width="0.15">Optical volume (µm<tspan font-size="4.6" dy="-2.6">3</tspan><tspan dy="2.6">)</tspan></text>
<path d="M347.48,289.9 V196.50 Q347.48,194.60 349.38,194.60 H349.83 Q351.73,194.60 351.73,196.50 V289.9 Z" fill="#3ca537" stroke="#2f7e2b" stroke-width="0.5"/>
<path d="M356.07,289.9 V209.70 Q356.07,207.80 357.97,207.80 H358.43 Q360.32,207.80 360.32,209.70 V289.9 Z" fill="#1d4b87" stroke="#12335f" stroke-width="0.5"/>
<path d="M364.68,289.9 V191.40 Q364.68,189.50 366.57,189.50 H367.03 Q368.93,189.50 368.93,191.40 V289.9 Z" fill="#c8082c" stroke="#930c2a" stroke-width="0.5"/>
<path d="M373.18,289.9 V203.90 Q373.18,202.00 375.07,202.00 H375.53 Q377.43,202.00 377.43,203.90 V289.9 Z" fill="#1d4b87" stroke="#12335f" stroke-width="0.5"/>
<path d="M381.68,289.9 V190.40 Q381.68,188.50 383.57,188.50 H384.03 Q385.93,188.50 385.93,190.40 V289.9 Z" fill="#c8082c" stroke="#930c2a" stroke-width="0.5"/>
<path d="M390.18,289.9 V220.80 Q390.18,218.90 392.07,218.90 H392.53 Q394.43,218.90 394.43,220.80 V289.9 Z" fill="#1d4b87" stroke="#12335f" stroke-width="0.5"/>
<path d="M398.48,289.9 V212.10 Q398.48,210.20 400.38,210.20 H400.83 Q402.73,210.20 402.73,212.10 V289.9 Z" fill="#c8082c" stroke="#930c2a" stroke-width="0.5"/>
<line x1="344.0" y1="194.20" x2="406.60" y2="194.20" stroke="#8a8a8a" stroke-width="0.7" stroke-dasharray="2.6,0.7"/>
<line x1="344.00" y1="176.30" x2="344.00" y2="290.40" stroke="#262626" stroke-width="1.3" />
<line x1="341.00" y1="289.90" x2="406.40" y2="289.90" stroke="#262626" stroke-width="1" />
<line x1="341.70" y1="289.90" x2="344.00" y2="289.90" stroke="#262626" stroke-width="0.9" />
<text x="337.80" y="292.20" font-size="6.5" text-anchor="end" fill="#3a3a3a" font-weight="normal"  stroke="#3a3a3a" stroke-width="0.12">0</text>
<line x1="341.70" y1="252.93" x2="344.00" y2="252.93" stroke="#262626" stroke-width="0.9" />
<text x="337.80" y="255.23" font-size="6.5" text-anchor="end" fill="#3a3a3a" font-weight="normal"  stroke="#3a3a3a" stroke-width="0.12">10</text>
<line x1="341.70" y1="215.96" x2="344.00" y2="215.96" stroke="#262626" stroke-width="0.9" />
<text x="337.80" y="218.26" font-size="6.5" text-anchor="end" fill="#3a3a3a" font-weight="normal"  stroke="#3a3a3a" stroke-width="0.12">20</text>
<line x1="341.70" y1="178.99" x2="344.00" y2="178.99" stroke="#262626" stroke-width="0.9" />
<text x="337.80" y="181.29" font-size="6.5" text-anchor="end" fill="#3a3a3a" font-weight="normal"  stroke="#3a3a3a" stroke-width="0.12">30</text>
<line x1="349.60" y1="289.90" x2="349.60" y2="292.40" stroke="#262626" stroke-width="0.9" />
<text transform="translate(352.25,296.90) rotate(-90) scale(0.9,1)" font-size="7.0" text-anchor="end" fill="#383838" font-weight="normal"  stroke="#383838" stroke-width="0.1">HD-BE</text>
<line x1="358.20" y1="289.90" x2="358.20" y2="292.40" stroke="#262626" stroke-width="0.9" />
<text transform="translate(360.85,296.90) rotate(-90) scale(0.9,1)" font-size="7.0" text-anchor="end" fill="#383838" font-weight="normal"  stroke="#383838" stroke-width="0.1">BT-BE</text>
<line x1="366.80" y1="289.90" x2="366.80" y2="292.40" stroke="#262626" stroke-width="0.9" />
<text transform="translate(369.45,296.90) rotate(-90) scale(0.9,1)" font-size="7.0" text-anchor="end" fill="#383838" font-weight="normal"  stroke="#383838" stroke-width="0.1">BT-cor</text>
<line x1="375.30" y1="289.90" x2="375.30" y2="292.40" stroke="#262626" stroke-width="0.9" />
<text transform="translate(377.95,296.90) rotate(-90) scale(0.9,1)" font-size="7.0" text-anchor="end" fill="#383838" font-weight="normal"  stroke="#383838" stroke-width="0.1">BT1-BE</text>
<line x1="383.80" y1="289.90" x2="383.80" y2="292.40" stroke="#262626" stroke-width="0.9" />
<text transform="translate(386.45,296.90) rotate(-90) scale(0.9,1)" font-size="7.0" text-anchor="end" fill="#383838" font-weight="normal"  stroke="#383838" stroke-width="0.1">BT1-cor</text>
<line x1="392.30" y1="289.90" x2="392.30" y2="292.40" stroke="#262626" stroke-width="0.9" />
<text transform="translate(394.95,296.90) rotate(-90) scale(0.9,1)" font-size="7.0" text-anchor="end" fill="#383838" font-weight="normal"  stroke="#383838" stroke-width="0.1">BT2-BE</text>
<line x1="400.60" y1="289.90" x2="400.60" y2="292.40" stroke="#262626" stroke-width="0.9" />
<text transform="translate(403.25,296.90) rotate(-90) scale(0.9,1)" font-size="7.0" text-anchor="end" fill="#383838" font-weight="normal"  stroke="#383838" stroke-width="0.1">BT2-cor</text>
<path d="M357.90,203.20 V166.00 H366.50 V185.40" fill="none" stroke="#444" stroke-width="1"/>
<circle cx="357.90" cy="162.40" r="0.92" fill="#3a3a3a"/>
<circle cx="360.77" cy="162.40" r="0.92" fill="#3a3a3a"/>
<circle cx="363.63" cy="162.40" r="0.92" fill="#3a3a3a"/>
<circle cx="366.50" cy="162.40" r="0.92" fill="#3a3a3a"/>
<path d="M375.20,196.40 V179.70 H383.50 V183.80" fill="none" stroke="#444" stroke-width="1"/>
<circle cx="375.20" cy="176.10" r="0.92" fill="#3a3a3a"/>
<circle cx="377.97" cy="176.10" r="0.92" fill="#3a3a3a"/>
<circle cx="380.73" cy="176.10" r="0.92" fill="#3a3a3a"/>
<circle cx="383.50" cy="176.10" r="0.92" fill="#3a3a3a"/>
<path d="M392.50,214.60 V166.00 H400.80 V205.80" fill="none" stroke="#444" stroke-width="1"/>
<circle cx="392.50" cy="162.40" r="0.92" fill="#3a3a3a"/>
<circle cx="395.27" cy="162.40" r="0.92" fill="#3a3a3a"/>
<circle cx="398.03" cy="162.40" r="0.92" fill="#3a3a3a"/>
<circle cx="400.80" cy="162.40" r="0.92" fill="#3a3a3a"/>
<text transform="translate(325.00,232.80) rotate(-90)" font-size="7.2" text-anchor="middle" fill="#333" font-weight="normal" textLength="43.4" lengthAdjust="spacingAndGlyphs"  stroke="#333" stroke-width="0.15">Dry mass (pg)</text>
<path d="M451.07,289.9 V196.50 Q451.07,194.60 452.97,194.60 H453.43 Q455.32,194.60 455.32,196.50 V289.9 Z" fill="#3ca537" stroke="#2f7e2b" stroke-width="0.5"/>
<path d="M460.18,289.9 V207.60 Q460.18,205.70 462.07,205.70 H462.53 Q464.43,205.70 464.43,207.60 V289.9 Z" fill="#1d4b87" stroke="#12335f" stroke-width="0.5"/>
<path d="M469.27,289.9 V198.20 Q469.27,196.30 471.17,196.30 H471.62 Q473.52,196.30 473.52,198.20 V289.9 Z" fill="#c8082c" stroke="#930c2a" stroke-width="0.5"/>
<path d="M478.07,289.9 V197.50 Q478.07,195.60 479.97,195.60 H480.43 Q482.32,195.60 482.32,197.50 V289.9 Z" fill="#1d4b87" stroke="#12335f" stroke-width="0.5"/>
<path d="M486.88,289.9 V191.10 Q486.88,189.20 488.77,189.20 H489.23 Q491.12,189.20 491.12,191.10 V289.9 Z" fill="#c8082c" stroke="#930c2a" stroke-width="0.5"/>
<path d="M495.68,289.9 V201.80 Q495.68,199.90 497.57,199.90 H498.03 Q499.93,199.90 499.93,201.80 V289.9 Z" fill="#1d4b87" stroke="#12335f" stroke-width="0.5"/>
<path d="M504.48,289.9 V200.80 Q504.48,198.90 506.38,198.90 H506.83 Q508.73,198.90 508.73,200.80 V289.9 Z" fill="#c8082c" stroke="#930c2a" stroke-width="0.5"/>
<line x1="447.5" y1="194.80" x2="512.60" y2="194.80" stroke="#8a8a8a" stroke-width="0.7" stroke-dasharray="2.6,0.7"/>
<line x1="447.50" y1="171.80" x2="447.50" y2="290.40" stroke="#262626" stroke-width="1" />
<line x1="444.50" y1="289.90" x2="512.40" y2="289.90" stroke="#262626" stroke-width="1" />
<line x1="445.20" y1="289.90" x2="447.50" y2="289.90" stroke="#262626" stroke-width="0.9" />
<text x="441.30" y="292.20" font-size="6.5" text-anchor="end" fill="#3a3a3a" font-weight="normal"  stroke="#3a3a3a" stroke-width="0.12">0.0</text>
<line x1="445.20" y1="266.58" x2="447.50" y2="266.58" stroke="#262626" stroke-width="0.9" />
<text x="441.30" y="268.88" font-size="6.5" text-anchor="end" fill="#3a3a3a" font-weight="normal"  stroke="#3a3a3a" stroke-width="0.12">0.1</text>
<line x1="445.20" y1="243.26" x2="447.50" y2="243.26" stroke="#262626" stroke-width="0.9" />
<text x="441.30" y="245.56" font-size="6.5" text-anchor="end" fill="#3a3a3a" font-weight="normal"  stroke="#3a3a3a" stroke-width="0.12">0.2</text>
<line x1="445.20" y1="219.94" x2="447.50" y2="219.94" stroke="#262626" stroke-width="0.9" />
<text x="441.30" y="222.24" font-size="6.5" text-anchor="end" fill="#3a3a3a" font-weight="normal"  stroke="#3a3a3a" stroke-width="0.12">0.3</text>
<line x1="445.20" y1="196.62" x2="447.50" y2="196.62" stroke="#262626" stroke-width="0.9" />
<text x="441.30" y="198.92" font-size="6.5" text-anchor="end" fill="#3a3a3a" font-weight="normal"  stroke="#3a3a3a" stroke-width="0.12">0.4</text>
<line x1="445.20" y1="173.30" x2="447.50" y2="173.30" stroke="#262626" stroke-width="0.9" />
<text x="441.30" y="175.60" font-size="6.5" text-anchor="end" fill="#3a3a3a" font-weight="normal"  stroke="#3a3a3a" stroke-width="0.12">0.5</text>
<line x1="453.20" y1="289.90" x2="453.20" y2="292.40" stroke="#262626" stroke-width="0.9" />
<text transform="translate(455.85,296.90) rotate(-90) scale(0.9,1)" font-size="7.0" text-anchor="end" fill="#383838" font-weight="normal"  stroke="#383838" stroke-width="0.1">HD-BE</text>
<line x1="462.30" y1="289.90" x2="462.30" y2="292.40" stroke="#262626" stroke-width="0.9" />
<text transform="translate(464.95,296.90) rotate(-90) scale(0.9,1)" font-size="7.0" text-anchor="end" fill="#383838" font-weight="normal"  stroke="#383838" stroke-width="0.1">BT-BE</text>
<line x1="471.40" y1="289.90" x2="471.40" y2="292.40" stroke="#262626" stroke-width="0.9" />
<text transform="translate(474.05,296.90) rotate(-90) scale(0.9,1)" font-size="7.0" text-anchor="end" fill="#383838" font-weight="normal"  stroke="#383838" stroke-width="0.1">BT-cor</text>
<line x1="480.20" y1="289.90" x2="480.20" y2="292.40" stroke="#262626" stroke-width="0.9" />
<text transform="translate(482.85,296.90) rotate(-90) scale(0.9,1)" font-size="7.0" text-anchor="end" fill="#383838" font-weight="normal"  stroke="#383838" stroke-width="0.1">BT1-BE</text>
<line x1="489.00" y1="289.90" x2="489.00" y2="292.40" stroke="#262626" stroke-width="0.9" />
<text transform="translate(491.65,296.90) rotate(-90) scale(0.9,1)" font-size="7.0" text-anchor="end" fill="#383838" font-weight="normal"  stroke="#383838" stroke-width="0.1">BT1-cor</text>
<line x1="497.80" y1="289.90" x2="497.80" y2="292.40" stroke="#262626" stroke-width="0.9" />
<text transform="translate(500.45,296.90) rotate(-90) scale(0.9,1)" font-size="7.0" text-anchor="end" fill="#383838" font-weight="normal"  stroke="#383838" stroke-width="0.1">BT2-BE</text>
<line x1="506.60" y1="289.90" x2="506.60" y2="292.40" stroke="#262626" stroke-width="0.9" />
<text transform="translate(509.25,296.90) rotate(-90) scale(0.9,1)" font-size="7.0" text-anchor="end" fill="#383838" font-weight="normal"  stroke="#383838" stroke-width="0.1">BT2-cor</text>
<path d="M462.00,200.60 V164.40 H471.60 V194.20" fill="none" stroke="#444" stroke-width="1"/>
<circle cx="462.00" cy="160.80" r="0.92" fill="#3a3a3a"/>
<circle cx="465.20" cy="160.80" r="0.92" fill="#3a3a3a"/>
<circle cx="468.40" cy="160.80" r="0.92" fill="#3a3a3a"/>
<circle cx="471.60" cy="160.80" r="0.92" fill="#3a3a3a"/>
<path d="M479.90,190.90 V180.40 H489.10 V185.00" fill="none" stroke="#444" stroke-width="1"/>
<circle cx="479.90" cy="176.80" r="0.92" fill="#3a3a3a"/>
<circle cx="482.97" cy="176.80" r="0.92" fill="#3a3a3a"/>
<circle cx="486.03" cy="176.80" r="0.92" fill="#3a3a3a"/>
<circle cx="489.10" cy="176.80" r="0.92" fill="#3a3a3a"/>
<path d="M497.70,195.10 V180.40 H506.60 V195.10" fill="none" stroke="#444" stroke-width="1"/>
<text transform="translate(502.15,178.40) scale(0.8,1)" font-size="7.6" text-anchor="middle" fill="#333" font-weight="normal"  stroke="#333" stroke-width="0.1">ns</text>
<text transform="translate(427.30,229.10) rotate(-90)" font-size="7.2" text-anchor="middle" fill="#333" font-weight="normal" textLength="80" lengthAdjust="spacingAndGlyphs"  stroke="#333" stroke-width="0.15">Surface density (pg/µm<tspan font-size="4.6" dy="-2.6">2</tspan><tspan dy="2.6">)</tspan></text>
</g>
<rect x="0.5" y="0.5" width="519" height="325" fill="none" stroke="#222" stroke-width="1"/>
</svg>
</body></html>
